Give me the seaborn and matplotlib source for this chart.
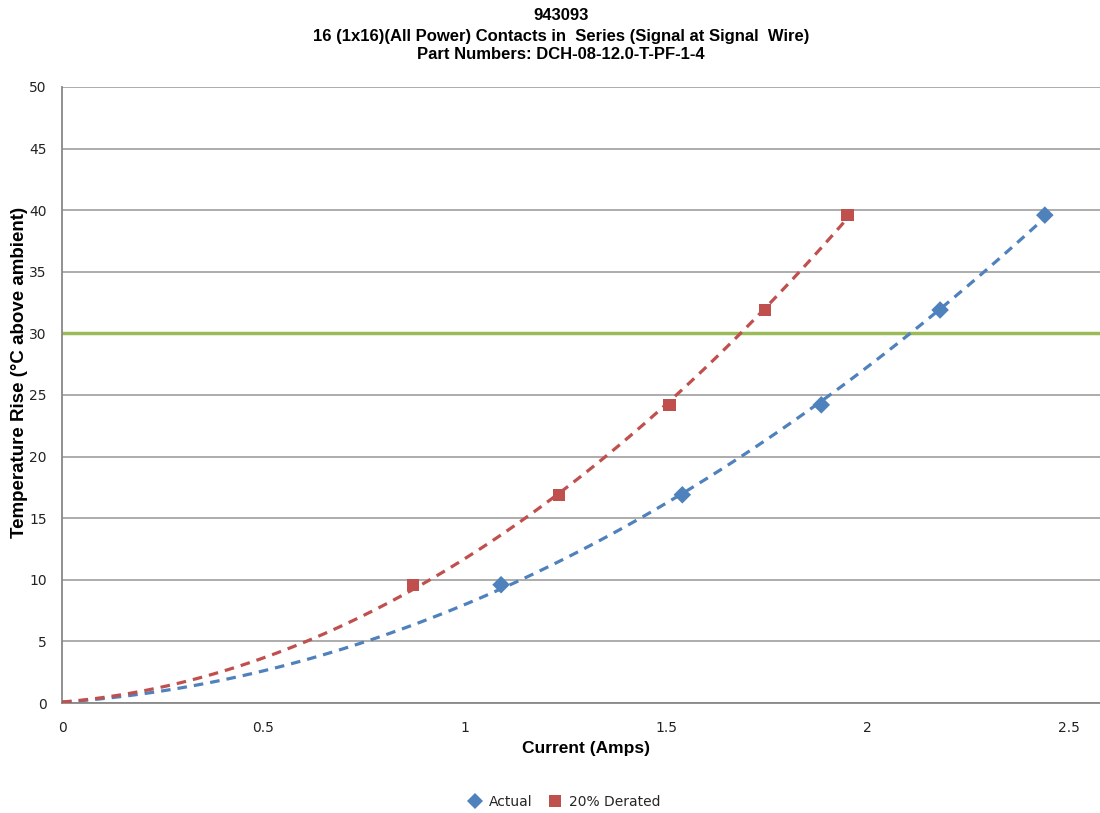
import numpy as np
import pandas as pd
import matplotlib.pyplot as plt
import seaborn as sns

# Values
actual_amps = [1.09, 1.54, 1.885, 2.18, 2.44]
derated_amps = [0.872, 1.234, 1.508, 1.745, 1.95]
temp_rise = [9.6, 16.9, 24.2, 31.9, 39.6]
limit_temp = 30

blue = '#4f81bd'
red = '#c0504d'
green = '#9bbb59'
grid_grey = '#a6a6a6'

df = pd.DataFrame({
    'Current': actual_amps + derated_amps,
    'Rise': temp_rise + temp_rise,
    'Series': ['Actual'] * 5 + ['20% Derated'] * 5,
})

sns.set_style('white')
plt.rcParams['font.family'] = ['DejaVu Sans']

fig = plt.figure(figsize=(11, 8.13), dpi=100)
ax = fig.add_axes([0.0564, 0.1353, 0.9436, 0.7577])

# horizontal gridlines
ax.set_axisbelow(True)
ax.yaxis.grid(True, color=grid_grey, linewidth=1.3)

# 30 degree limit line
ax.axhline(limit_temp, color=green, linewidth=2.5, zorder=2)

# polynomial trendlines (order 2, fitted through the origin point as well)
for name, amps, col in [('Actual', actual_amps, blue), ('20% Derated', derated_amps, red)]:
    sns.regplot(x=[0] + amps, y=[0] + temp_rise, order=2, ci=None, scatter=False,
                truncate=True, ax=ax,
                line_kws=dict(color=col, linewidth=2.3, dashes=(3, 2.2), zorder=3))

sns.scatterplot(data=df, x='Current', y='Rise', hue='Series', style='Series',
                palette={'Actual': blue, '20% Derated': red},
                markers={'Actual': 'D', '20% Derated': 's'},
                s=80, edgecolor='none', linewidth=0, ax=ax, zorder=4)

ax.set_xlim(0, 2.577)
ax.set_ylim(0, 50)
ax.set_xticks([0, 0.5, 1, 1.5, 2, 2.5])
ax.set_xticklabels(['0', '0.5', '1', '1.5', '2', '2.5'])
ax.set_yticks(range(0, 51, 5))

for side in ['top', 'right']:
    ax.spines[side].set_visible(False)
for side in ['left', 'bottom']:
    ax.spines[side].set_color('#888888')
    ax.spines[side].set_linewidth(1.3)
ax.tick_params(axis='both', which='major', length=5, width=1.2, color='#888888',
               labelsize=10, labelcolor='#222222', direction='out', pad=6)
ax.tick_params(axis='x', pad=8)

ax.set_xlabel('Current (Amps)', fontsize=12.5, fontweight='bold',
              family=['Liberation Sans'], color='black')
ax.xaxis.set_label_coords(0.505, -0.062)
ax.set_ylabel('Temperature Rise (\u00b0C above ambient)', fontsize=13.5,
              fontweight='bold', family=['Liberation Sans'], color='black')
ax.yaxis.set_label_coords(-0.033, 0.537)

title_font = dict(ha='center', va='center', fontsize=12, fontweight='bold',
                  family=['Liberation Sans'], color='black')
fig.text(0.51, 0.981, '943093', **title_font)
fig.text(0.51, 0.955, '16 (1x16)(All Power) Contacts in  Series (Signal at Signal  Wire)',
         **title_font)
fig.text(0.51, 0.933, 'Part Numbers: DCH-08-12.0-T-PF-1-4', **title_font)

handles, labels = ax.get_legend_handles_labels()
ax.legend(handles, labels, loc='center', bbox_to_anchor=(0.51, 0.0135),
          bbox_transform=fig.transFigure, ncol=2, frameon=False, fontsize=10,
          handletextpad=0.0, columnspacing=0.6, markerscale=0.9)

fig.savefig('out.png', dpi=100)
